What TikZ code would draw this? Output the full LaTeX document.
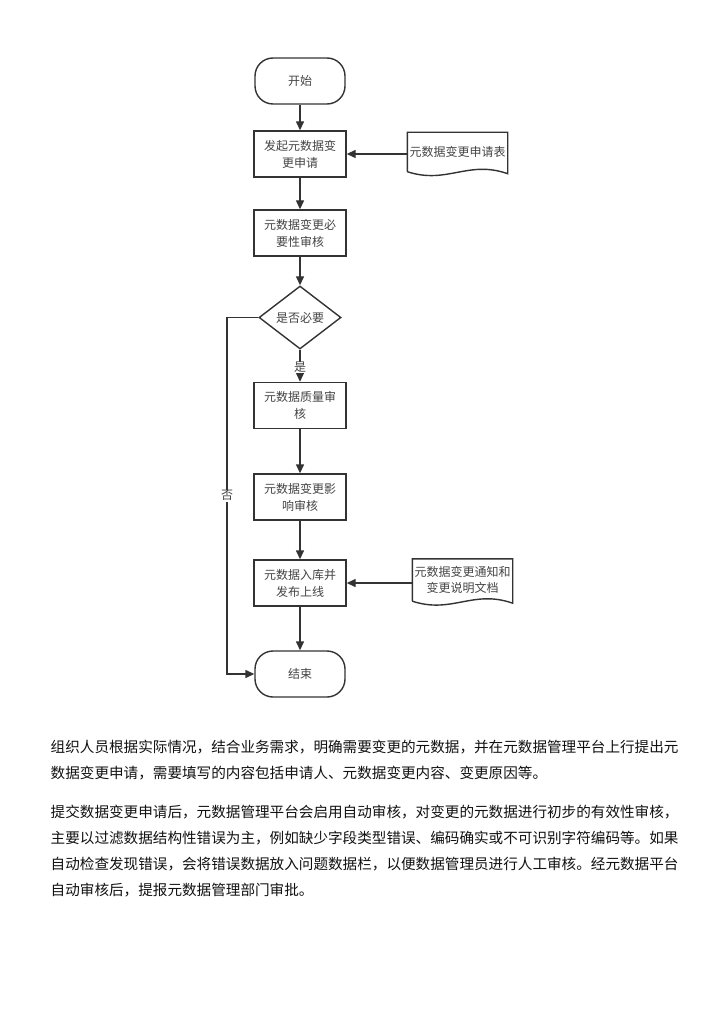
\documentclass[tikz,border=0pt]{standalone}
\usepackage{fontspec}
\setmainfont{Noto Sans CJK SC}
\usetikzlibrary{arrows.meta,shapes.geometric,calc}
\XeTeXlinebreaklocale "zh"
\XeTeXlinebreakskip=0pt plus 2pt
\definecolor{linegray}{HTML}{333333}
\definecolor{textgray}{HTML}{444444}
\definecolor{bodytext}{HTML}{111111}

\begin{document}
\begin{tikzpicture}[x=1pt,y=-1pt,line width=1.4pt,>={Triangle[length=9pt,width=8pt]}]
\tikzstyle{box}=[rectangle,draw=linegray,minimum width=92pt,minimum height=46pt,inner sep=1pt,align=center,text=textgray,font=\fontsize{12}{17}\selectfont]
\tikzstyle{term}=[box,rounded corners=18pt,minimum width=90pt]
\tikzstyle{decide}=[diamond,draw=linegray,minimum width=82pt,minimum height=63pt,inner sep=0pt,text=textgray,font=\fontsize{12}{17}\selectfont]
\tikzstyle{doc}=[rectangle,minimum width=99pt,minimum height=38pt,inner sep=0pt,align=center,text=textgray,font=\fontsize{12}{16}\selectfont]
\tikzstyle{flow}=[draw=linegray,->]
\tikzstyle{para}=[anchor=west,inner sep=0pt,text=bodytext,font=\fontsize{14.6}{18}\selectfont]
\path[fill=white,use as bounding box] (0,0) rectangle (725,1024);

% flow chart
\node [term] (start) at (300,81) {开始};
\node [box] (apply) at (300,154) {发起元数据变\\更申请};
\node [doc] (form) at (457.5,152) {元数据变更申请表};
\node [box] (need) at (300,233) {元数据变更必\\要性审核};
\node [decide] (isneed) at (300,317.5) {是否必要};
\node [box] (quality) at (300,405.5) {元数据质量审\\核};
\node [box] (impact) at (300,497) {元数据变更影\\响审核};
\node [box] (publish) at (300,583) {元数据入库并\\发布上线};
\node [doc, minimum height=41pt] (notice) at (462.5,580) {元数据变更通知和\\变更说明文档};
\node [term] (stop) at (300,674) {结束};
\coordinate (nobend) at (227,317.5);

% document shapes
\foreach \d in {form,notice}
  \draw[linegray] (\d.south west) -- (\d.north west) -- (\d.north east) -- ($(\d.south east)+(0,2)$)
    .. controls +(-40,-14) and +(40,13) .. (\d.south west);

% connectors
\draw[flow] (start) -- (apply);
\draw[flow] (form.west |- apply.east) -- (apply.east);
\draw[flow] (apply) -- (need);
\draw[flow] (need) -- (isneed);
\draw[flow] (isneed) -- node[pos=0.55,fill=white,inner sep=0.5pt,text=textgray,font=\fontsize{12}{14}\selectfont] (yes) {是} (quality);
\draw[flow] (quality) -- (impact);
\draw[flow] (impact) -- (publish);
\draw[flow] (notice.west |- publish.east) -- (publish.east);
\draw[flow] (publish) -- (stop);
\draw[flow] (isneed.west) -- (nobend) |- node[pos=0.25,fill=white,inner sep=1pt,text=textgray,font=\fontsize{12}{14}\selectfont] (no) {否} (stop.west);

% text below
\node [para] (p1a) at (50,747) {\makebox[630pt][s]{组织人员根据实际情况，结合业务需求，明确需要变更的元数据，并在元数据管理平台上行提出元}};
\node [para] (p1b) at (50,773) {数据变更申请，需要填写的内容包括申请人、元数据变更内容、变更原因等。};
\node [para] (p2a) at (50,812) {\makebox[630pt][s]{提交数据变更申请后，元数据管理平台会启用自动审核，对变更的元数据进行初步的有效性审核，}};
\node [para] (p2b) at (50,838) {\makebox[630pt][s]{主要以过滤数据结构性错误为主，例如缺少字段类型错误、编码确实或不可识别字符编码等。如果}};
\node [para] (p2c) at (50,864) {\makebox[630pt][s]{自动检查发现错误，会将错误数据放入问题数据栏，以便数据管理员进行人工审核。经元数据平台}};
\node [para] (p2d) at (50,890) {自动审核后，提报元数据管理部门审批。};
\end{tikzpicture}
\end{document}
